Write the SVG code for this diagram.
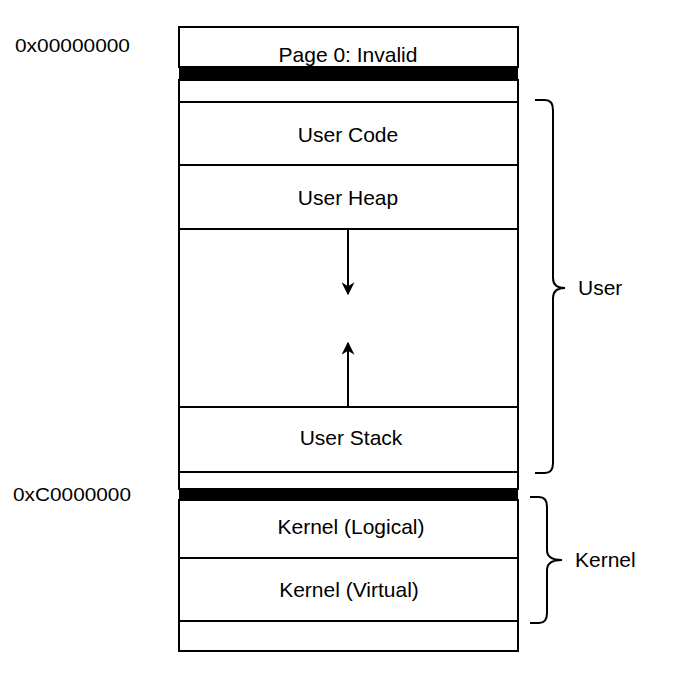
<svg xmlns="http://www.w3.org/2000/svg" width="688" height="684" viewBox="0 0 688 684">
<style>
  .cell { fill: #ffffff; stroke: #000000; stroke-width: 2; }
  .band { fill: #000000; stroke: none; }
  .t { font-family: "Liberation Sans", Arial, sans-serif; font-size: 21px; fill: #000000; text-anchor: middle; }
  .ts { font-family: "Liberation Sans", Arial, sans-serif; font-size: 21px; fill: #000000; }
  .addr { font-family: "Liberation Sans", Arial, sans-serif; font-size: 17.5px; fill: #000000; }
  .conn { fill: none; stroke: #000000; stroke-width: 2; }
  .brace { fill: none; stroke: #000000; stroke-width: 2; }
</style>
<defs>
  <marker id="arr" viewBox="0 0 10 10" refX="9" refY="5" markerWidth="6.5" markerHeight="6.5" orient="auto" markerUnits="strokeWidth">
    <path d="M0,0 L10,5 L0,10 L3,5 Z" fill="#000000"/>
  </marker>
</defs>
<g id="page0">
  <rect class="cell" x="179" y="27" width="339" height="40"/>
  <text class="t" x="348" y="62">Page 0: Invalid</text>
</g>
<g id="guard-top">
  <rect class="band" x="179" y="67" width="339" height="13"/>
  <rect class="cell" x="179" y="80" width="339" height="22"/>
</g>
<g id="user-code">
  <rect class="cell" x="179" y="102" width="339" height="63"/>
  <text class="t" x="348" y="142">User Code</text>
</g>
<g id="user-heap">
  <rect class="cell" x="179" y="165" width="339" height="64"/>
  <text class="t" x="348" y="205">User Heap</text>
</g>
<g id="free">
  <rect class="cell" x="179" y="229" width="339" height="178"/>
</g>
<g id="user-stack">
  <rect class="cell" x="179" y="407" width="339" height="65"/>
  <text class="t" x="351" y="445">User Stack</text>
</g>
<g id="gap">
  <rect class="cell" x="179" y="472" width="339" height="17"/>
  <rect class="band" x="179" y="489" width="339" height="11"/>
</g>
<g id="kernel-logical">
  <rect class="cell" x="179" y="500" width="339" height="58"/>
  <text class="t" x="351" y="534">Kernel (Logical)</text>
</g>
<g id="kernel-virtual">
  <rect class="cell" x="179" y="558" width="339" height="63"/>
  <text class="t" x="349" y="597">Kernel (Virtual)</text>
</g>
<g id="bottom">
  <rect class="cell" x="179" y="621" width="339" height="30"/>
</g>
<g id="addr-0">
  <text class="addr" x="15" y="52" textLength="115" lengthAdjust="spacingAndGlyphs">0x00000000</text>
</g>
<g id="addr-c">
  <text class="addr" x="13" y="501" textLength="118" lengthAdjust="spacingAndGlyphs">0xC0000000</text>
</g>
<g id="user-brace">
  <path class="brace" d="M535,100 L545,100 Q553,100 553,110 L553,278 Q553,288 565,288 Q553,288 553,298 L553,463 Q553,473 545,473 L535,473"/>
  <text class="ts" x="578" y="295">User</text>
</g>
<g id="kernel-brace">
  <path class="brace" d="M530,497 L539,497 Q547,497 547,507 L547,550 Q547,560 562,560 Q547,560 547,570 L547,613 Q547,623 539,623 L530,623"/>
  <text class="ts" x="575" y="567">Kernel</text>
</g>
<g id="connectors">
  <line class="conn" x1="348" y1="229" x2="348" y2="294" marker-end="url(#arr)"/>
  <line class="conn" x1="348" y1="407" x2="348" y2="343" marker-end="url(#arr)"/>
</g>
</svg>
